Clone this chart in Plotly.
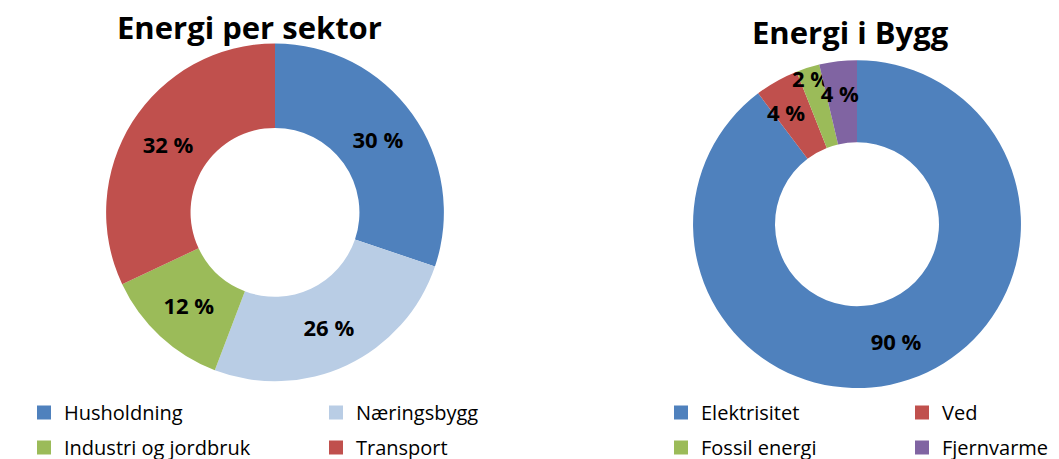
import plotly.graph_objects as go

sektor_labels = ["Husholdning", "Næringsbygg", "Industri og jordbruk", "Transport"]
sektor_values = [30.2, 25.6, 12.2, 32.0]
sektor_colors = ["#4F81BD", "#B9CDE5", "#9BBB59", "#C0504D"]

bygg_labels = ["Elektrisitet", "Ved", "Fossil energi", "Fjernvarme"]
bygg_values = [89.7, 4.3, 2.3, 3.7]
bygg_colors = ["#4F81BD", "#C0504D", "#9BBB59", "#8064A2"]

FONT = "Open Sans"
W, H = 1059, 459
OFF = 8  # the page body adds an 8px margin around the figure
fx = lambda px: (px - OFF) / W
fy = lambda py: 1 - (py - OFF) / H
NB = "\u00a0<br>"  # blank first line nudges a crowded label downward


def pct_text(vals, prefixes=None):
    s = sum(vals)
    prefixes = prefixes or [""] * len(vals)
    return [f"{p}<b>{round(v / s * 100)} %</b>" for v, p in zip(vals, prefixes)]


fig = go.Figure()
pies = [
    (sektor_labels, sektor_values, sektor_colors, None,
     dict(x=[fx(104), fx(446)], y=[fy(387), fy(44)])),
    (bygg_labels, bygg_values, bygg_colors, ["", NB, "", NB],
     dict(x=[fx(690), fx(1024)], y=[fy(394), fy(61)])),
]
for labels, values, colors, prefixes, dom in pies:
    fig.add_trace(go.Pie(
        labels=labels, values=values, hole=0.5, sort=False,
        direction="clockwise", rotation=0,
        marker=dict(colors=colors, line=dict(width=0)),
        text=pct_text(values, prefixes), textinfo="text", textposition="inside",
        insidetextorientation="horizontal",
        textfont=dict(family=FONT, size=22, color="black"),
        domain=dom, showlegend=False, hoverinfo="label+percent",
    ))

# legend entries: one legend per column (two rows each)
legend_cols = [
    ("legend", sektor_labels[0::2], sektor_colors[0::2], 38),
    ("legend2", sektor_labels[1::2], sektor_colors[1::2], 330),
    ("legend3", bygg_labels[0::2], bygg_colors[0::2], 675),
    ("legend4", bygg_labels[1::2], bygg_colors[1::2], 916),
]
legend_layout = {}
for i, (lg, labs, cols, xpx) in enumerate(legend_cols):
    for j, (lab, col) in enumerate(zip(labs, cols)):
        fig.add_trace(go.Scatter(
            x=[None], y=[None], mode="markers", name=lab, legend=lg,
            legendgroup=f"g{i}{j}",
            marker=dict(symbol="square", size=14, color=col, line=dict(width=0)),
        ))
    legend_layout[lg] = dict(
        orientation="v", x=fx(xpx - 14), y=fy(399), xanchor="left", yanchor="top",
        font=dict(family=FONT, size=20, color="black"), bgcolor="rgba(0,0,0,0)",
        traceorder="grouped", tracegroupgap=6, borderwidth=0,
    )

fig.update_layout(
    width=W, height=H,
    margin=dict(l=0, r=0, t=0, b=0),
    paper_bgcolor="white", plot_bgcolor="white",
    font=dict(family=FONT, color="black"),
    uniformtext=dict(minsize=22, mode="show"),
    xaxis=dict(visible=False), yaxis=dict(visible=False),
    annotations=[
        dict(text="<b>Energi per sektor</b>", x=fx(249), y=fy(27), xref="paper", yref="paper",
             xanchor="center", yanchor="middle",
             showarrow=False, font=dict(family=FONT, size=31, color="black")),
        dict(text="<b>Energi i Bygg</b>", x=fx(850), y=fy(32), xref="paper", yref="paper",
             xanchor="center", yanchor="middle",
             showarrow=False, font=dict(family=FONT, size=31, color="black")),
    ],
    **legend_layout,
)

fig.write_html("out.html")
